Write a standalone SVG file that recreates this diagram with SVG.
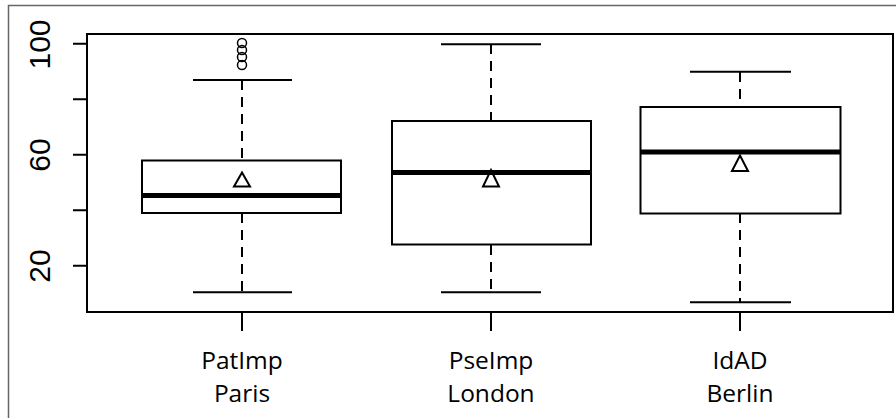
<svg xmlns="http://www.w3.org/2000/svg" width="896" height="418" viewBox="0 0 896 418">
<style>
.ln{stroke:#000;stroke-width:2;fill:none}
.box{stroke:#000;stroke-width:2;fill:#fff}
.med{stroke:#000;stroke-width:5}
.wh{stroke:#000;stroke-width:2;stroke-dasharray:10 7;fill:none}
.mean{stroke:#000;stroke-width:2;fill:#fff;stroke-linejoin:miter}
.out{stroke:#000;stroke-width:1.5;fill:none}
.ylab{font-family:"Liberation Sans",Arial,sans-serif;font-size:30px;fill:#000;text-anchor:middle}
.xlab{font-family:"Open Sans","Noto Sans",sans-serif;font-size:24.5px;fill:#000;text-anchor:middle}
</style>
<rect x="0" y="0" width="896" height="418" fill="#fff"/>
<path d="M8.5 420 V5.5 H900" stroke="#666" stroke-width="1.5" fill="none"/>
<g id="axes">
  <rect x="87" y="34" width="806" height="278" class="ln"/>
  <path class="ln" d="M73 43.7H87M73 99.2H87M73 154.7H87M73 210.2H87M73 265.7H87"/>
  <text class="ylab" transform="translate(50 44.5) rotate(-90)">100</text>
  <text class="ylab" transform="translate(50 155) rotate(-90)">60</text>
  <text class="ylab" transform="translate(50 266) rotate(-90)">20</text>
  <path class="ln" d="M242 312V331M491 312V331M740 312V331"/>
</g>
<g id="paris">
  <path class="wh" d="M242 80V160M242 213V292"/>
  <path class="ln" d="M193 80H292M193 292.3H292"/>
  <rect class="box" x="142" y="160.5" width="199" height="52.5"/>
  <line class="med" x1="142" y1="195.5" x2="341" y2="195.5"/>
  <polygon class="mean" points="242,172.5 250,186.5 234,186.5"/>
  <circle class="out" cx="242" cy="43" r="4.5"/>
  <circle class="out" cx="242" cy="50" r="4.5"/>
  <circle class="out" cx="242" cy="57" r="4.5"/>
  <circle class="out" cx="242" cy="65" r="4.5"/>
  <text class="xlab" x="242" y="368.5">PatImp</text>
  <text class="xlab" x="242" y="401.5">Paris</text>
</g>
<g id="london">
  <path class="wh" d="M491 44V121M491 245V292"/>
  <path class="ln" d="M441 44.3H541M441 292.3H541"/>
  <rect class="box" x="392" y="121" width="199" height="123.5"/>
  <polygon class="mean" points="491,170 499,186.5 483,186.5"/>
  <line class="med" x1="392" y1="172.5" x2="591" y2="172.5"/>
  <text class="xlab" x="491" y="368.5">PseImp</text>
  <text class="xlab" x="491" y="401.5">London</text>
</g>
<g id="berlin">
  <path class="wh" d="M740 72V107M740 213V302"/>
  <path class="ln" d="M690 71.7H791M690 302.3H791"/>
  <rect class="box" x="640.5" y="107" width="200" height="106.5"/>
  <polygon class="mean" points="740,155.5 748,171 732,171"/>
  <line class="med" x1="640.5" y1="152" x2="840.5" y2="152"/>
  <text class="xlab" x="740" y="368.5">IdAD</text>
  <text class="xlab" x="740" y="401.5">Berlin</text>
</g>
</svg>
